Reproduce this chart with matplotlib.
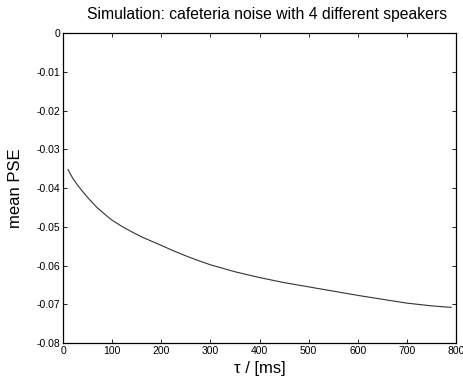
import matplotlib.pyplot as plt

TAU = [10, 20, 30, 40, 50, 60, 70, 80, 90, 100, 120, 140, 160, 180, 200,
       225, 250, 275, 300, 350, 400, 450, 500, 550, 600, 650, 700, 750, 790]
PSE = [-0.0352, -0.0375, -0.0393, -0.0409, -0.0424, -0.0438, -0.0451, -0.0462,
       -0.0473, -0.0483, -0.0499, -0.0513, -0.0526, -0.0537, -0.0548, -0.0562,
       -0.0575, -0.0587, -0.0598, -0.0616, -0.0631, -0.0644, -0.0655, -0.0666,
       -0.0677, -0.0687, -0.0697, -0.0704, -0.0708]

X_TICKS = [0, 100, 200, 300, 400, 500, 600, 700, 800]
Y_TICKS = [0, -0.01, -0.02, -0.03, -0.04, -0.05, -0.06, -0.07, -0.08]
Y_LABELS = ['0', '-0.01', '-0.02', '-0.03', '-0.04', '-0.05', '-0.06', '-0.07', '-0.08']

plt.rcParams['font.family'] = ['Liberation Sans', 'DejaVu Sans']

fig = plt.figure(figsize=(4.64, 3.85), dpi=100)
ax = fig.add_axes([0.1358, 0.109, 0.847, 0.805])

ax.plot(TAU, PSE, color='#333333', linewidth=0.8)

ax.set_xlim(0, 800)
ax.set_ylim(-0.08, 0)
ax.set_xticks(X_TICKS)
ax.set_yticks(Y_TICKS)
ax.set_yticklabels(Y_LABELS)
ax.tick_params(direction='in', top=True, right=True, length=3, width=0.6,
               labelsize=7.5, pad=2)
for s in ax.spines.values():
    s.set_linewidth(0.9)

ax.set_xlabel('τ / [ms]', fontsize=12, labelpad=4)
ax.set_ylabel('mean PSE', fontsize=12, labelpad=10)
ax.set_title('Simulation: cafeteria noise with 4 different speakers',
             fontsize=11.3, pad=10, x=0.52)

fig.savefig('out.png', dpi=100)
